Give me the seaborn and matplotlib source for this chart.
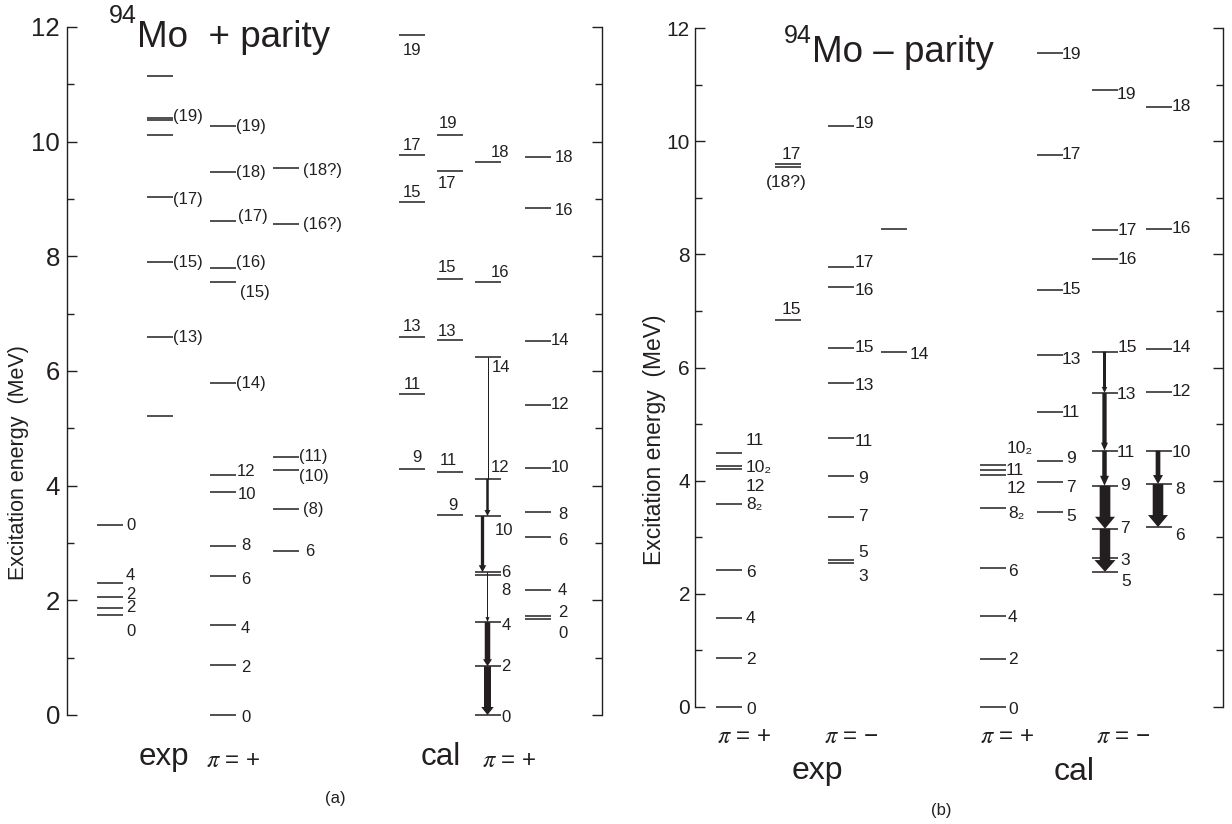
import numpy as np
import pandas as pd
import matplotlib
matplotlib.use("Agg")
import matplotlib.pyplot as plt
import seaborn as sns
from matplotlib.patches import FancyArrowPatch, ArrowStyle
from matplotlib.ticker import MultipleLocator

# ------------------------------------------------------------------ data
# (a) 94Mo positive parity -- experiment (four columns)
exp_a1_E = [3.31, 2.30, 2.06, 1.87, 1.74]
exp_a1_J = ["0", "4", "2", "2", "0"]
exp_a2_E = [11.15, 10.42, 10.37, 10.12, 9.04, 7.90, 6.59, 5.22]
exp_a2_J = ["", "(19)", "", "", "(17)", "(15)", "(13)", ""]
exp_a3_E = [10.27, 9.47, 8.62, 7.80, 7.55, 5.79, 4.19, 3.89, 2.95, 2.42, 1.57, 0.87, 0.0]
exp_a3_J = ["(19)", "(18)", "(17)", "(16)", "(15)", "(14)", "12", "10", "8", "6", "4", "2", "0"]
exp_a4_E = [9.54, 8.56, 4.50, 4.27, 3.59, 2.86]
exp_a4_J = ["(18?)", "(16?)", "(11)", "(10)", "(8)", "6"]
# (a) calculation (four columns)
cal_a1_E = [11.86, 9.77, 8.95, 6.60, 5.60, 4.29]
cal_a1_J = ["19", "17", "15", "13", "11", "9"]
cal_a2_E = [10.12, 9.49, 7.61, 6.54, 4.24, 3.49]
cal_a2_J = ["19", "17", "15", "13", "11", "9"]
cal_a3_E = [9.64, 7.55, 6.25, 4.12, 3.47, 2.49, 2.44, 1.62, 0.85, 0.0]
cal_a3_J = ["18", "16", "14", "12", "10", "6", "8", "4", "2", "0"]
cal_a4_E = [9.73, 8.85, 6.53, 5.41, 4.31, 3.54, 3.11, 2.18, 1.72, 1.67]
cal_a4_J = ["18", "16", "14", "12", "10", "8", "6", "4", "2", "0"]
cal_a3_transitions = [(2, 3), (3, 4), (4, 5), (5, 7), (7, 8), (8, 9)]

# (b) 94Mo negative parity -- experiment
exp_b1_E = [4.49, 4.26, 4.21, 3.59, 2.42, 1.57, 0.87, 0.0]
exp_b1_J = ["11", "10\u2082", "12", "8\u2082", "6", "4", "2", "0"]
exp_b2_E = [9.60, 9.55, 6.84]
exp_b2_J = ["17", "(18?)", "15"]
exp_b3_E = [10.26, 7.78, 7.42, 6.35, 5.72, 4.75, 4.08, 3.36, 2.60, 2.55]
exp_b3_J = ["19", "17", "16", "15", "13", "11", "9", "7", "5", "3"]
exp_b4_E = [8.45, 6.28]
exp_b4_J = ["", "14"]
# (b) calculation
cal_b1_E = [4.27, 4.18, 4.10, 3.52, 2.46, 1.61, 0.85, 0.0]
cal_b1_J = ["10\u2082", "11", "12", "8\u2082", "6", "4", "2", "0"]
cal_b2_E = [11.56, 9.76, 7.37, 6.22, 5.21, 4.35, 3.98, 3.45]
cal_b2_J = ["19", "17", "15", "13", "11", "9", "7", "5"]
cal_b3_E = [10.91, 8.43, 7.92, 6.28, 5.55, 4.53, 3.91, 3.15, 2.63, 2.39]
cal_b3_J = ["19", "17", "16", "15", "13", "11", "9", "7", "3", "5"]
cal_b4_E = [10.61, 8.45, 6.32, 5.57, 4.53, 3.94, 3.18]
cal_b4_J = ["18", "16", "14", "12", "10", "8", "6"]
cal_b3_transitions = [(3, 4), (4, 5), (5, 6), (6, 7), (7, 9)]
cal_b4_transitions = [(4, 5), (5, 6)]

y_ticks = [0, 2, 4, 6, 8, 10, 12]

# ------------------------------------------------------------------ layout / style
INK = "#231f20"
W, H = 1232, 824
HALF = 13  # half length of a level line (px)

# column centres in px from the left spine
A_X = [43, 93, 156, 219, 344.5, 383, 420.5, 471]
B_X = [34, 93, 146, 199, 298, 355, 410, 463.5]

# label placement: (mode, dx px, dy px); 'r' = right of line end, 'c' = centred on line
L_exp_a1 = [("r", 3, 0), ("r", 3, 8), ("r", 3, 2), ("r", 3, 0), ("r", 3, -16)]
L_exp_a2 = [None, ("r", 0, 1), None, None, ("r", 0, -3), ("r", 0, 0), ("r", 0, 0), None]
L_exp_a3 = [("r", 0, 0), ("r", 0, 0), ("r", 2, 4), ("r", 0, 5), ("r", 4, -10), ("r", 0, 0),
            ("r", 1, 3), ("r", 2, -3), ("r", 5, 0), ("r", 5, -3), ("r", 5, -4), ("r", 5, -2), ("r", 5, -2)]
L_exp_a4 = [("r", 4, -2), ("r", 4, 0), ("r", 0, 0), ("r", 0, -6), ("r", 4, 0), ("r", 6, 0)]
L_cal_a1 = [("c", 1, -15), ("c", 1, 9), ("c", 1, 9), ("c", 1, 10), ("c", 1, 9), ("c", 5, 12)]
L_cal_a2 = [("c", -2, 11), ("c", -3, -13), ("c", -3, 11), ("c", -3, 9), ("c", -2, 11), ("c", 3, 9)]
L_cal_a3 = [("c", 12, 10), ("c", 13, 10), ("r", -9, -11), ("c", 13, 11), ("c", 16, -14),
            ("r", 1, 0), ("r", 1, -15), ("r", 1, -3), ("r", 1, 0), ("r", 1, -2)]
L_cal_a4 = [("r", 4, 0), ("r", 4, -3), ("r", 0, 0), ("r", 0, 0), ("r", 0, 0),
            ("r", 7, -2), ("r", 7, -4), ("r", 7, 0), ("r", 7, 4), ("r", 7, -14)]

L_exp_b1 = [("r", 4, 12), ("r", 4, -2), ("r", 4, -18), ("r", 4, -1), ("r", 4, -2), ("r", 4, 0), ("r", 4, -2), ("r", 4, -2)]
L_exp_b2 = [("c", 3, 9), ("c", -2, -16), ("c", 3, 10)]
L_exp_b3 = [("r", 1, 3), ("r", 1, 4), ("r", 1, -3), ("r", 1, 0), ("r", 1, -2), ("r", 1, -3),
            ("r", 4, -2), ("r", 4, 0), ("r", 4, 7), ("r", 4, -14)]
L_exp_b4 = [None, ("r", 3, -3)]
L_cal_b1 = [("r", 1, 17), ("r", 0, 0), ("r", 1, -13), ("r", 2, -6), ("r", 2, -4), ("r", 2, -2), ("r", 2, -1), ("r", 2, -2)]
L_cal_b2 = [("r", -1, -2), ("r", -1, 0), ("r", -1, 0), ("r", -1, -4), ("r", -1, 0), ("r", 3, 2), ("r", 3, -6), ("r", 3, -5)]
L_cal_b3 = [("r", -1, -5), ("r", 0, 0), ("r", 0, -1), ("r", 0, 4), ("r", -1, -2), ("r", -1, -2),
            ("r", 2, 0), ("r", 2, 0), ("r", 2, -2), ("r", 3, -10)]
L_cal_b4 = [("r", 0, 0), ("r", 0, 0), ("r", 0, 2), ("r", 0, 0), ("r", 0, -2), ("r", 4, -5), ("r", 4, -8)]

# arrow styles: (dx px from column centre, tail width px, head width px, head length px)
S_cal_a3 = [(0, 1.0, 0, 0), (0, 2.5, 6, 6), (-5, 3.3, 7.5, 7), (0, 1.0, 4, 5), (0, 5.5, 9, 7), (0, 7.0, 12.5, 8)]
S_cal_b3 = [(-0.5, 3.0, 5.5, 6), (-0.5, 4.3, 7, 8), (-0.5, 4.5, 9, 10), (0, 10.7, 20, 12), (0, 10.5, 21, 11.7)]
S_cal_b4 = [(-0.5, 4.7, 10, 9), (-0.5, 10.6, 20, 12)]

# ------------------------------------------------------------------ figure
sns.set_theme(style="ticks")
plt.rcParams["font.family"] = ["Liberation Sans", "DejaVu Sans"]
plt.rcParams["mathtext.fontset"] = "stix"

fig = plt.figure(figsize=(W / 100, H / 100), dpi=100)
fig.patch.set_facecolor("white")


def fx(px):
    return px / W


def fy(py):
    return 1 - py / H


axA = fig.add_axes([fx(67), fy(715), 535 / W, 688 / H])
axB = fig.add_axes([fx(695), fy(707), 528 / W, 679 / H])


def style_axes(ax, width_px, tick_fs, pad):
    ax.set_xlim(0, width_px)
    ax.set_ylim(0, 12)
    ax.set_facecolor("white")
    ax.set_xticks([])
    ax.yaxis.set_major_locator(MultipleLocator(2))
    ax.yaxis.set_minor_locator(MultipleLocator(1))
    ax.set_yticks(y_ticks)
    ax.set_yticklabels([str(t) for t in y_ticks])
    ax.tick_params(axis="y", which="both", direction="in", left=True, right=True,
                   labelright=False, color=INK, width=1.0, labelcolor=INK,
                   labelsize=tick_fs, pad=pad)
    ax.tick_params(axis="y", which="major", length=7.2)
    ax.tick_params(axis="y", which="minor", length=5.0)
    for s in ("top", "bottom"):
        ax.spines[s].set_visible(False)
    for s in ("left", "right"):
        ax.spines[s].set_visible(True)
        ax.spines[s].set_color(INK)
        ax.spines[s].set_linewidth(1.0)
    ax.set_xlabel("")
    ax.set_ylabel("")


def draw_column(ax, xc, energies, spins, layout, fs):
    df = pd.DataFrame({"x": [xc] * len(energies), "E": energies})
    sns.scatterplot(data=df, x="x", y="E", marker="_", s=(2 * HALF * 0.72) ** 2,
                    linewidth=1.1, color=INK, ax=ax, legend=False)
    for E, J, lay in zip(energies, spins, layout):
        if not J or lay is None:
            continue
        mode, dx, dy = lay
        x = xc + HALF if mode == "r" else xc
        ha = "left" if mode == "r" else "center"
        ax.annotate(J, xy=(x, E), xytext=(dx, dy), textcoords="offset pixels",
                    ha=ha, va="center", fontsize=fs, color=INK)


def draw_transitions(ax, xc, energies, transitions, styles):
    for (i, j), (dx, tw, hw, hl) in zip(transitions, styles):
        x = xc + dx
        e1, e2 = energies[i], energies[j]
        if hw == 0:
            ax.plot([x, x], [e1, e2], color=INK, lw=tw * 0.72, solid_capstyle="butt")
        else:
            st = ArrowStyle.Simple(head_length=hl * 0.72, head_width=hw * 0.72,
                                   tail_width=tw * 0.72)
            p = FancyArrowPatch((x, e1), (x, e2), arrowstyle=st, mutation_scale=1,
                                shrinkA=0, shrinkB=0, fc=INK, ec="none", lw=0)
            ax.add_patch(p)


# ---- panel (a)
cols_a = [(exp_a1_E, exp_a1_J, L_exp_a1), (exp_a2_E, exp_a2_J, L_exp_a2),
          (exp_a3_E, exp_a3_J, L_exp_a3), (exp_a4_E, exp_a4_J, L_exp_a4),
          (cal_a1_E, cal_a1_J, L_cal_a1), (cal_a2_E, cal_a2_J, L_cal_a2),
          (cal_a3_E, cal_a3_J, L_cal_a3), (cal_a4_E, cal_a4_J, L_cal_a4)]
for xc, (E, J, L) in zip(A_X, cols_a):
    draw_column(axA, xc, E, J, L, 12)
draw_transitions(axA, A_X[6], cal_a3_E, cal_a3_transitions, S_cal_a3)
style_axes(axA, 535, 18.5, 5)

# ---- panel (b)
cols_b = [(exp_b1_E, exp_b1_J, L_exp_b1), (exp_b2_E, exp_b2_J, L_exp_b2),
          (exp_b3_E, exp_b3_J, L_exp_b3), (exp_b4_E, exp_b4_J, L_exp_b4),
          (cal_b1_E, cal_b1_J, L_cal_b1), (cal_b2_E, cal_b2_J, L_cal_b2),
          (cal_b3_E, cal_b3_J, L_cal_b3), (cal_b4_E, cal_b4_J, L_cal_b4)]
for xc, (E, J, L) in zip(B_X, cols_b):
    draw_column(axB, xc, E, J, L, 12.5)
draw_transitions(axB, B_X[6], cal_b3_E, cal_b3_transitions, S_cal_b3)
draw_transitions(axB, B_X[7], cal_b4_E, cal_b4_transitions, S_cal_b4)
style_axes(axB, 528, 15, 3.6)

# ---- y labels
fig.text(fx(19), fy(463), "Excitation energy  (MeV)", rotation=90, ha="center",
         va="center", fontsize=15.5, color=INK)
fig.text(fx(654), fy(440), "Excitation energy  (MeV)", rotation=90, ha="center",
         va="center", fontsize=16.5, color=INK)

# ---- titles
fig.text(fx(137), fy(23), "94", fontsize=18, ha="right", va="baseline", color=INK)
fig.text(fx(137), fy(47), "Mo  + parity", fontsize=26.5, ha="left", va="baseline", color=INK)
fig.text(fx(812), fy(43), "94", fontsize=18, ha="right", va="baseline", color=INK)
fig.text(fx(812), fy(62), "Mo \u2013 parity", fontsize=26.5, ha="left", va="baseline", color=INK)

# ---- bottom annotations
PI_FS = 17.5
fig.text(fx(163.5), fy(765), "exp", fontsize=22.5, ha="center", va="baseline", color=INK)
fig.text(fx(206), fy(767), r"$\pi$ = +", fontsize=PI_FS, ha="left", va="baseline", color=INK)
fig.text(fx(441), fy(765), "cal", fontsize=22.5, ha="center", va="baseline", color=INK)
fig.text(fx(482), fy(767), r"$\pi$ = +", fontsize=PI_FS, ha="left", va="baseline", color=INK)
fig.text(fx(335), fy(799), "(a)", fontsize=12, ha="center", va="center", color=INK)

fig.text(fx(744.5), fy(743), r"$\pi$ = +", fontsize=PI_FS, ha="center", va="baseline", color=INK)
fig.text(fx(851.5), fy(743), "$\\pi$ = \u2212", fontsize=PI_FS, ha="center", va="baseline", color=INK)
fig.text(fx(1007.5), fy(743), r"$\pi$ = +", fontsize=PI_FS, ha="center", va="baseline", color=INK)
fig.text(fx(1123.5), fy(743), "$\\pi$ = \u2212", fontsize=PI_FS, ha="center", va="baseline", color=INK)
fig.text(fx(817), fy(779), "exp", fontsize=23, ha="center", va="baseline", color=INK)
fig.text(fx(1074.5), fy(780), "cal", fontsize=23, ha="center", va="baseline", color=INK)
fig.text(fx(941), fy(811), "(b)", fontsize=12, ha="center", va="center", color=INK)

fig.savefig("out.png", dpi=100, facecolor="white")
